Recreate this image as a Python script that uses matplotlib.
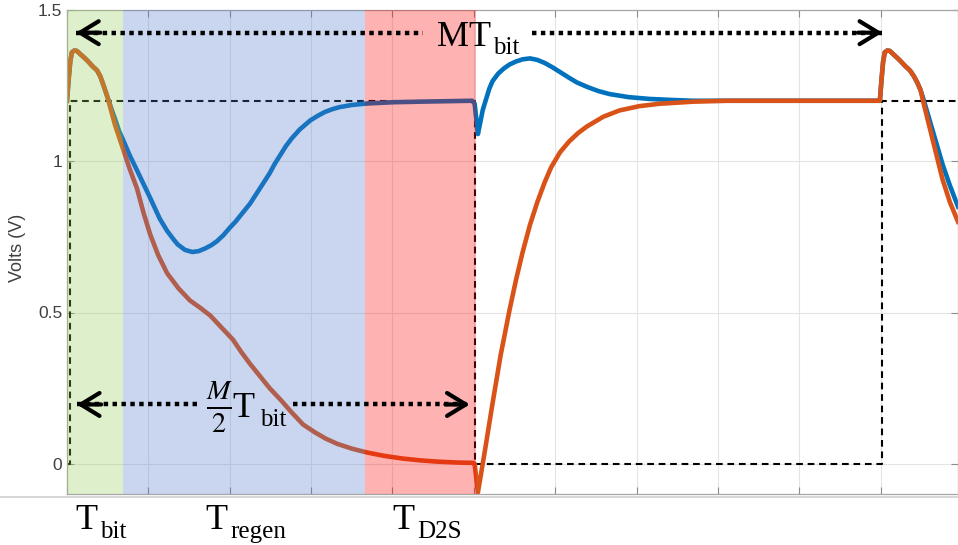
import numpy as np
import matplotlib
matplotlib.use('Agg')
import matplotlib.pyplot as plt
from matplotlib.lines import Line2D

# time axis in units of one grid division
vp_t = [0.00, 0.02, 0.04, 0.06, 0.09, 0.12, 0.16, 0.21, 0.26, 0.31, 0.37, 0.41,
        0.45, 0.50, 0.55, 0.59, 0.64, 0.69, 0.77, 0.86, 0.94, 1.02, 1.08, 1.14,
        1.23, 1.30, 1.36, 1.45, 1.54, 1.62, 1.70, 1.77, 1.84, 1.92, 2.00, 2.07,
        2.13, 2.19, 2.25, 2.31, 2.37, 2.43, 2.49, 2.55, 2.62, 2.69, 2.76, 2.86,
        2.99, 3.08, 3.17, 3.26, 3.35, 3.50, 3.69, 4.00, 4.34, 4.98, 5.01, 5.05,
        5.08, 5.11, 5.15, 5.19, 5.23, 5.30, 5.37, 5.44, 5.52, 5.60, 5.69, 5.78,
        5.87, 5.97, 6.07, 6.17, 6.27, 6.40, 6.53, 6.67, 6.90, 7.16, 7.40, 7.69,
        9.99, 10.01, 10.03, 10.05, 10.08, 10.11, 10.17, 10.23, 10.30, 10.36, 10.41,
        10.45, 10.49, 10.52, 10.58, 10.64, 10.70, 10.76, 10.85, 10.95]
vp_v = [1.20, 1.27, 1.33, 1.36, 1.366, 1.365, 1.355, 1.343, 1.33, 1.315, 1.30, 1.28,
        1.25, 1.21, 1.17, 1.14, 1.10, 1.07, 1.02, 0.97, 0.925, 0.88, 0.845, 0.81,
        0.77, 0.745, 0.725, 0.707, 0.70, 0.703, 0.712, 0.722, 0.735, 0.755, 0.78, 0.80,
        0.82, 0.84, 0.86, 0.885, 0.91, 0.935, 0.96, 0.99, 1.02, 1.05, 1.075, 1.105,
        1.135, 1.15, 1.163, 1.172, 1.179, 1.186, 1.191, 1.195, 1.197, 1.20, 1.19, 1.09,
        1.13, 1.17, 1.205, 1.24, 1.265, 1.29, 1.307, 1.32, 1.33, 1.337, 1.34, 1.335,
        1.325, 1.31, 1.293, 1.276, 1.26, 1.245, 1.232, 1.222, 1.212, 1.206, 1.203, 1.20,
        1.20, 1.27, 1.33, 1.36, 1.366, 1.365, 1.35, 1.335, 1.315, 1.30, 1.28,
        1.26, 1.235, 1.21, 1.155, 1.10, 1.045, 0.99, 0.92, 0.85]

vn_t = [0.00, 0.02, 0.04, 0.06, 0.09, 0.12, 0.16, 0.21, 0.26, 0.31, 0.37, 0.41,
        0.45, 0.50, 0.55, 0.59, 0.64, 0.69, 0.77, 0.86, 0.94, 1.02, 1.12, 1.23,
        1.37, 1.51, 1.64, 1.76, 1.90, 2.04, 2.14, 2.25, 2.37, 2.49, 2.63, 2.76,
        2.90, 3.04, 3.18, 3.32, 3.50, 3.69, 3.90, 4.13, 4.35, 4.55, 4.80, 4.99,
        5.01, 5.05, 5.14, 5.23, 5.33, 5.44, 5.52, 5.60, 5.69, 5.78, 5.87, 5.95,
        6.06, 6.17, 6.28, 6.39, 6.59, 6.79, 7.03, 7.28, 7.70, 8.11,
        9.99, 10.01, 10.03, 10.05, 10.08, 10.11, 10.17, 10.23, 10.30, 10.36, 10.41,
        10.45, 10.49, 10.52, 10.58, 10.64, 10.70, 10.76, 10.85, 10.95]
vn_v = [1.20, 1.27, 1.33, 1.36, 1.366, 1.365, 1.355, 1.343, 1.33, 1.315, 1.30, 1.28,
        1.25, 1.21, 1.16, 1.12, 1.08, 1.04, 0.975, 0.91, 0.83, 0.76, 0.69, 0.63,
        0.58, 0.54, 0.515, 0.49, 0.45, 0.41, 0.37, 0.33, 0.29, 0.25, 0.21, 0.17,
        0.13, 0.105, 0.083, 0.066, 0.05, 0.037, 0.026, 0.017, 0.011, 0.007, 0.004, 0.003,
        0.0, -0.095, 0.05, 0.20, 0.36, 0.51, 0.61, 0.70, 0.79, 0.865, 0.93, 0.98,
        1.03, 1.065, 1.093, 1.115, 1.147, 1.168, 1.182, 1.19, 1.197, 1.20,
        1.20, 1.27, 1.33, 1.36, 1.366, 1.365, 1.35, 1.335, 1.315, 1.30, 1.28,
        1.26, 1.235, 1.20, 1.135, 1.07, 1.005, 0.94, 0.865, 0.80]

clk_t = [0.00, 0.04, 0.04, 5.02, 5.02, 10.02, 10.02, 10.95]
clk_v = [0.0, 0.0, 1.2, 1.2, 0.0, 0.0, 1.2, 1.2]

phases = ['bit', 'regen', 'D2S']
phase_edges = [0.0, 0.69, 3.66, 5.03]
phase_colors = ['#94cd55', '#527aca', '#ff0000']

yticks = [0, 0.5, 1, 1.5]
ytick_labels = ['0', '0.5', '1', '1.5']

fig = plt.figure(figsize=(9.58, 5.45), dpi=100)
ax = fig.add_axes([67 / 958, 1 - 494 / 545, 1 - 67 / 958, (494 - 10) / 545])

ax.plot(clk_t, clk_v, color='k', lw=1.5, dashes=(3.2, 2.3), zorder=2)
ax.plot(vp_t, vp_v, color='#0072BD', lw=3.3, zorder=2.2, solid_joinstyle='round')
ax.plot(vn_t, vn_v, color='#D95319', lw=3.3, zorder=2.3, solid_joinstyle='round')

for i in range(len(phases)):
    ax.axvspan(phase_edges[i], phase_edges[i + 1], color=phase_colors[i],
               alpha=0.3, lw=0, zorder=3)

ax.set_xlim(0, 10.95)
ax.set_ylim(-0.1, 1.5)
ax.set_xticks(range(0, 11))
ax.set_xticklabels([])
ax.set_yticks(yticks)
ax.set_yticklabels(ytick_labels, family='Liberation Sans', fontsize=12.5, color='#404040')
ax.tick_params(direction='in', length=5, color='#8c8c8c', width=0.8,
               top=True, right=True, pad=3.5)
ax.grid(True, color='#e4e4e4', lw=0.8)
ax.set_axisbelow(True)
for s in ax.spines.values():
    s.set_color('#a6a6a6')
    s.set_linewidth(0.9)

fig.text(18 / 958, 1 - 248 / 545, 'Volts (V)', rotation=90, ha='center', va='center',
         family='Liberation Sans', fontsize=13, color='#404040')
fig.add_artist(Line2D([0, 1], [1 - 497 / 545] * 2, color='#d0d0d0', lw=1.2))

serif = 'Liberation Serif'


def dotted_arrow(y, x0, x1, x2, x3):
    # left chevron, dotted run, gap for the text, dotted run, right chevron
    ax.plot([x0, x1], [y, y], color='k', lw=3.2, ls=(0, (1, 1)), zorder=5, clip_on=False)
    ax.plot([x2, x3], [y, y], color='k', lw=3.2, ls=(0, (1, 1)), zorder=5, clip_on=False)
    style = '->,head_length=0.9,head_width=0.55'
    ax.annotate('', xy=(x0, y), xytext=(x0 + 0.3, y), zorder=6,
                arrowprops=dict(arrowstyle=style, lw=3, color='k', shrinkA=0, shrinkB=0,
                                mutation_scale=15))
    ax.annotate('', xy=(x3, y), xytext=(x3 - 0.3, y), zorder=6,
                arrowprops=dict(arrowstyle=style, lw=3, color='k', shrinkA=0, shrinkB=0,
                                mutation_scale=15))


dotted_arrow(1.425, 0.11, 4.37, 5.71, 10.02)
dotted_arrow(0.196, 0.12, 1.63, 2.78, 4.95)

ax.text(4.55, 1.382, 'MT', family=serif, fontsize=26, va='baseline', zorder=7)
ax.text(5.23, 1.355, 'bit', family=serif, fontsize=18, va='baseline', zorder=7)

plt.rcParams['mathtext.fontset'] = 'stix'
ax.text(1.88, 0.186, r'$\frac{M}{2}$', fontsize=29, ha='center', va='center', zorder=7)
ax.text(2.03, 0.153, 'T', family=serif, fontsize=26, va='baseline', zorder=7)
ax.text(2.37, 0.126, 'bit', family=serif, fontsize=18, va='baseline', zorder=7)

label_x = [0.10, 1.70, 4.00]
for lx, name in zip(label_x, phases):
    ax.text(lx, -0.216, 'T', family=serif, fontsize=26, va='baseline', clip_on=False)
    ax.text(lx + 0.305, -0.246, name, family=serif, fontsize=18, va='baseline', clip_on=False)

fig.savefig('out.png', dpi=100)
